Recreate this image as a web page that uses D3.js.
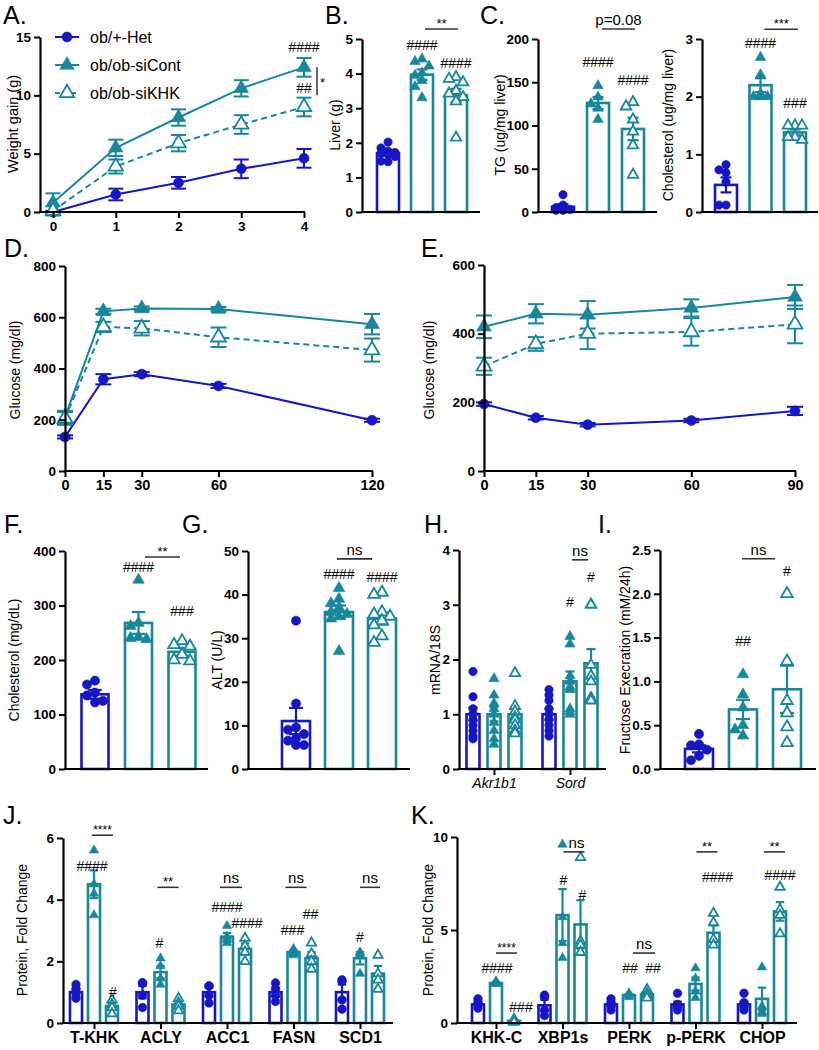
<!DOCTYPE html>
<html><head><meta charset="utf-8">
<script src="https://cdn.jsdelivr.net/npm/d3@7"></script>
<style>
body{margin:0;background:#fff}
svg{display:block}
text{font-family:"Liberation Sans",Arial,Helvetica,sans-serif}
</style>
</head><body>
<svg id="c" width="819" height="1050"></svg>
<script>
// ---------------- DATA ----------------
const groupNames = ["ob/+-Het", "ob/ob-siCont", "ob/ob-siKHK"];

// A. weight gain
const weeks = [0, 1, 2, 3, 4];
const wgTicks = [0, 5, 10, 15];
const wgHet = [0, 1.5, 2.5, 3.7, 4.6];
const wgHetErr = [0.1, 0.5, 0.5, 0.8, 0.8];
const wgCont = [0.8, 5.5, 8.1, 10.6, 12.4];
const wgContErr = [0.8, 0.7, 0.7, 0.7, 0.8];
const wgKHK = [0.1, 3.9, 5.9, 7.5, 9.0];
const wgKHKErr = [0.4, 0.6, 0.7, 0.8, 0.8];

// B. liver weight
const liverTicks = [0, 1, 2, 3, 4, 5];
const liverMean = [1.7, 3.97, 3.37];
const liverErr = [0.07, 0.15, 0.19];
const liverPts = [[2.02, 1.85, 1.76, 1.72, 1.7, 1.66, 1.6, 1.47, 1.45],
                  [4.42, 4.35, 4.22, 4.02, 3.95, 3.8, 3.62, 3.3],
                  [3.9, 3.85, 3.75, 3.5, 3.42, 3.32, 3.2, 2.15]];

// C. liver TG
const tgTicks = [0, 50, 100, 150, 200];
const tgMean = [6, 126, 96];
const tgErr = [3, 7, 13];
const tgPts = [[20, 8, 5, 3, 2, 2], [146, 133, 125, 120, 107], [127, 122, 107, 93, 77, 43]];

// C. liver cholesterol
const lcTicks = [0, 1, 2, 3];
const lcMean = [0.47, 2.2, 1.38];
const lcErr = [0.13, 0.12, 0.05];
const lcPts = [[0.82, 0.73, 0.68, 0.52, 0.12, 0.12], [2.68, 2.38, 2.05, 2.0, 2.0, 2.0], [1.5, 1.5, 1.5, 1.3, 1.3, 1.25]];

// D. GTT
const gttTimes = [0, 15, 30, 60, 120];
const gttTicks = [0, 200, 400, 600, 800];
const gttHet = [133, 358, 378, 332, 198];
const gttHetErr = [6, 20, 8, 8, 6];
const gttCont = [210, 623, 634, 632, 573];
const gttContErr = [25, 10, 8, 8, 40];
const gttKHK = [205, 562, 557, 522, 472];
const gttKHKErr = [25, 20, 28, 38, 45];

// E. ITT
const ittTimes = [0, 15, 30, 60, 90];
const ittTicks = [0, 200, 400, 600];
const ittHet = [195, 155, 135, 147, 175];
const ittHetErr = [5, 5, 5, 5, 12];
const ittCont = [420, 458, 455, 475, 507];
const ittContErr = [33, 28, 40, 25, 35];
const ittKHK = [305, 370, 400, 405, 427];
const ittKHKErr = [25, 20, 45, 40, 55];

// F. serum cholesterol
const scTicks = [0, 100, 200, 300, 400];
const scMean = [137, 268, 215];
const scErr = [8, 20, 7];
const scPts = [[162, 155, 140, 135, 125, 122], [347, 268, 262, 242, 240, 238], [235, 228, 225, 210, 200, 198]];

// G. ALT
const altTicks = [0, 10, 20, 30, 40, 50];
const altMean = [11, 36, 34.5];
const altErr = [3, 1.5, 1.4];
const altPts = [[34, 15, 9.5, 9, 8, 7, 6.5, 5.5, 5.5],
                [41.5, 39, 38, 37, 36, 35.5, 35, 34.5, 27],
                [40.5, 40, 36, 35.5, 35, 34, 33, 30.5, 29]];

// H. mRNA
const mrnaGenes = ["Akr1b1", "Sord"];
const mrnaTicks = [0, 1, 2, 3, 4];
const mrnaMean = [[1.0, 1.0, 1.0], [1.0, 1.6, 1.93]];
const mrnaErr = [[0.12, 0.13, 0.1], [0.1, 0.18, 0.26]];
const mrnaPts = [
  [[1.78, 1.32, 1.1, 1.0, 0.9, 0.8, 0.7, 0.6, 0.55], [1.65, 1.35, 1.2, 1.1, 1.0, 0.85, 0.7, 0.55, 0.45], [1.75, 1.15, 1.05, 0.95, 0.9, 0.8, 0.7, 0.65]],
  [[1.45, 1.35, 1.25, 1.1, 1.0, 0.9, 0.8, 0.7, 0.6], [2.42, 2.28, 1.7, 1.6, 1.5, 1.45, 1.1, 1.05, 1.0], [3.0, 3.0, 1.9, 1.7, 1.6, 1.3, 1.25]]
];

// I. fructose excretion
const fruTicks = [0, 0.5, 1.0, 1.5, 2.0, 2.5];
const fruMean = [0.23, 0.68, 0.91];
const fruErr = [0.04, 0.11, 0.27];
const fruPts = [[0.4, 0.28, 0.27, 0.22, 0.15, 0.1], [1.08, 0.85, 0.7, 0.5, 0.45, 0.38], [2.0, 1.23, 0.78, 0.64, 0.48, 0.3]];

// J. lipogenic proteins
const protJCats = ["T-KHK", "ACLY", "ACC1", "FASN", "SCD1"];
const protJTicks = [0, 2, 4, 6];
const protJMean = [[1, 4.5, 0.55], [1, 1.65, 0.6], [1, 2.8, 2.4], [1, 2.3, 2.1], [1, 2.1, 1.6]];
const protJErr = [[0.1, 0.45, 0.1], [0.2, 0.2, 0.1], [0.15, 0.12, 0.18], [0.15, 0.05, 0.2], [0.25, 0.2, 0.25]];
const protJPts = [
  [[1.25, 1.1, 1.0, 0.8], [5.6, 4.5, 4.2, 3.5], [0.75, 0.6, 0.5, 0.3]],
  [[1.3, 1.3, 0.9, 0.5], [2.1, 1.85, 1.45, 1.25], [0.8, 0.65, 0.55, 0.4]],
  [[1.2, 1.2, 0.9, 0.65], [3.15, 2.8, 2.7, 2.6], [2.75, 2.5, 2.3, 2.0]],
  [[1.3, 1.1, 0.9, 0.7], [2.4, 2.3, 2.25, 2.2], [2.6, 2.25, 2.0, 1.75]],
  [[1.4, 1.35, 0.75, 0.45], [2.3, 2.25, 2.2, 1.6], [2.2, 1.6, 1.4, 1.1]]
];

// K. ER stress proteins
const protKCats = ["KHK-C", "XBP1s", "PERK", "p-PERK", "CHOP"];
const protKTicks = [0, 5, 10];
const protKMean = [[1, 2.15, 0.12], [0.95, 5.8, 5.3], [1, 1.5, 1.55], [1, 2.1, 4.85], [1, 1.3, 6.0]];
const protKErr = [[0.1, 0.05, 0.03], [0.3, 1.4, 1.3], [0.1, 0.05, 0.1], [0.15, 0.35, 0.4], [0.15, 0.6, 0.5]];
const protKPts = [
  [[1.3, 1.1, 1.0, 0.8], [2.25, 2.2, 2.15, 2.1], [0.2, 0.15, 0.1, 0.05]],
  [[1.5, 1.4, 0.7, 0.4], [9.6, 5.7, 4.3, 3.5], [8.9, 4.4, 4.2, 3.8]],
  [[1.3, 1.1, 0.9, 0.7], [1.6, 1.55, 1.5, 1.4], [1.8, 1.6, 1.5, 1.35]],
  [[1.6, 1.0, 0.9, 0.7], [2.95, 2.4, 1.7, 1.35], [5.9, 5.4, 4.5, 4.2]],
  [[1.6, 1.1, 0.9, 0.7], [3.0, 0.9, 0.6, 0.5], [7.3, 6.1, 5.8, 4.8]]
];

// ---------------- DRAWING ----------------
const HET = "#1616c4", TEAL = "#17879a";
const FONT = '"Liberation Sans",Arial,Helvetica,sans-serif';
const NARROW = '"Liberation Sans Narrow","Arial Narrow",' + FONT;
const gStyle = [{c: HET, fill: HET, shape: "circle"}, {c: TEAL, fill: TEAL, shape: "tri"}, {c: TEAL, fill: "#fff", shape: "tri"}];
const svg = d3.select("#c");

function styleAxis(a, fs, family, weight) {
  a.select(".domain").attr("stroke", "#000").attr("stroke-width", 2.2);
  a.selectAll(".tick line").attr("stroke", "#000").attr("stroke-width", 2);
  a.selectAll(".tick text").attr("font-family", family || FONT).attr("font-weight", weight || "bold")
    .attr("font-size", fs || 13.5).attr("fill", "#000");
}
function yAxis(x, y, ticks, fmt) {
  const a = svg.append("g").attr("transform", `translate(${x},0)`)
    .call(d3.axisLeft(y).tickValues(ticks).tickFormat(fmt || (d => d)).tickSize(6).tickSizeOuter(0));
  styleAxis(a);
}
function xLine(x1, x2, y0) {
  svg.append("line").attr("x1", x1 - 1).attr("x2", x2).attr("y1", y0).attr("y2", y0)
    .attr("stroke", "#000").attr("stroke-width", 2.2);
}
function xTicks(scale, y0, ticks, fs, family, weight, italic) {
  const ax = d3.axisBottom(scale).tickSize(6).tickSizeOuter(0).tickFormat(d => d);
  if (ticks) ax.tickValues(ticks);
  const a = svg.append("g").attr("transform", `translate(0,${y0})`).call(ax);
  a.select(".domain").remove();
  styleAxis(a, fs, family, weight);
  if (italic) a.selectAll(".tick text").attr("font-style", "italic");
  return a;
}
function yLabel(t, x, yc, fs) {
  svg.append("text").attr("transform", `translate(${x},${yc}) rotate(-90)`).attr("text-anchor", "middle")
    .attr("dy", "0.35em").attr("font-size", fs || 14).text(t);
}
function panelLabel(t, x, y) {
  svg.append("text").attr("x", x).attr("y", y).attr("font-size", 25).text(t);
}
function marker(g, x, y, gi, r, a) {
  const s = gStyle[gi];
  const d = s.shape === "circle" ? d3.symbol(d3.symbolCircle, Math.PI * r * r)() : d3.symbol(d3.symbolTriangle, a)();
  g.append("path").attr("d", d).attr("transform", `translate(${x},${y})`)
    .attr("fill", s.fill).attr("stroke", s.c).attr("stroke-width", s.fill === "#fff" ? 1.8 : 0.6);
}
function errBar(g, x, y1, y2, cap, color, w) {
  g.append("line").attr("x1", x).attr("x2", x).attr("y1", y1).attr("y2", y2).attr("stroke", color).attr("stroke-width", w || 2);
  [y1, y2].forEach(yy => g.append("line").attr("x1", x - cap / 2).attr("x2", x + cap / 2).attr("y1", yy).attr("y2", yy)
    .attr("stroke", color).attr("stroke-width", w || 2));
}
function swarm(vals, y, step, maxOff) {
  const idx = vals.map((v, i) => i).sort((a, b) => vals[b] - vals[a]);
  const placed = [], off = new Array(vals.length).fill(0);
  const cands = [0];
  for (let k = 1; k < 8; k++) cands.push(-k * step, k * step);
  const ok = cands.filter(c => Math.abs(c) <= maxOff + 0.01);
  idx.forEach(i => {
    const py = y(vals[i]);
    let chosen = null;
    for (const c of ok) {
      if (placed.every(p => Math.hypot(p.x - c, p.y - py) >= step * 1.05)) { chosen = c; break; }
    }
    if (chosen === null) {
      let best = {c: 0, d: -1};
      ok.forEach(c => { const d = Math.min(...placed.map(p => Math.hypot(p.x - c, p.y - py))); if (d > best.d) best = {c, d}; });
      chosen = best.c;
    }
    off[i] = chosen; placed.push({x: chosen, y: py});
  });
  return off;
}
// bars: array of {x, m, e, pts, gi}
function drawBars(bars, y, bw, r, a, step, capFrac) {
  const g = svg.append("g");
  const y0 = y(0);
  bars.forEach(b => {
    const col = gStyle[b.gi].c;
    g.append("rect").attr("x", b.x - bw / 2).attr("y", y(b.m)).attr("width", bw).attr("height", y0 - y(b.m))
      .attr("fill", "#fff").attr("stroke", col).attr("stroke-width", 2.6);
  });
  bars.forEach(b => {
    const col = gStyle[b.gi].c;
    errBar(g, b.x, y(b.m - b.e), y(b.m + b.e), bw * (capFrac || 0.5), col, 2.2);
  });
  bars.forEach(b => {
    const off = swarm(b.pts, y, step, bw / 2 - 1);
    b.pts.forEach((v, k) => marker(g, b.x + off[k], y(v), b.gi, r, a));
  });
}
function ann(x, y, t, fs) {
  svg.append("text").attr("x", x).attr("y", y).attr("text-anchor", "middle").attr("font-size", fs || 14).text(t);
}
function sig(x1, x2, yy, t, fs) {
  svg.append("line").attr("x1", x1).attr("x2", x2).attr("y1", yy).attr("y2", yy).attr("stroke", "#333").attr("stroke-width", 1.6);
  const star = /\*/.test(t);
  ann((x1 + x2) / 2, star ? yy - 1 : yy - 4, t, fs || (star ? 13 : 15));
}
function lineSeries(x, y, xs, series, r, a, cap) {
  const g = svg.append("g");
  series.forEach((s, i) => {
    const line = d3.line().x((d, j) => x(xs[j])).y(d => y(d));
    g.append("path").attr("d", line(s.v)).attr("fill", "none").attr("stroke", gStyle[i].c).attr("stroke-width", 2)
      .attr("stroke-dasharray", s.dash || null);
  });
  series.forEach((s, i) => s.v.forEach((v, j) => errBar(g, x(xs[j]), y(v - s.e[j]), y(v + s.e[j]), cap, gStyle[i].c, 2)));
  series.forEach((s, i) => s.v.forEach((v, j) => marker(g, x(xs[j]), y(v), i, r, a)));
}

// ---------- Panel A ----------
{
  const x = d3.scaleLinear().domain([0, 4]).range([53, 304]);
  const y = d3.scaleLinear().domain([0, 15]).range([212, 37]);
  lineSeries(x, y, weeks, [{v: wgHet, e: wgHetErr}, {v: wgCont, e: wgContErr}, {v: wgKHK, e: wgKHKErr, dash: "6,4"}], 5, 90, 15);
  yAxis(40, y, wgTicks);
  xLine(40, 305, 212);
  xTicks(x, 212, weeks, 13.5);
  yLabel("Weight gain (g)", 13, 124, 14.5);
  panelLabel("A.", 3, 24);
  // legend
  groupNames.forEach((n, i) => {
    const ly = 37 + i * 28;
    svg.append("line").attr("x1", 55).attr("x2", 79).attr("y1", ly).attr("y2", ly).attr("stroke", gStyle[i].c)
      .attr("stroke-width", 2).attr("stroke-dasharray", i === 2 ? "5,3" : null);
    marker(svg, 67, ly, i, 5, 90);
    svg.append("text").attr("x", 90).attr("y", ly + 6).attr("font-size", 16).text(n);
  });
  ann(x(4), y(13.7), "####");
  ann(x(4), y(10.2), "##");
  svg.append("line").attr("x1", 317).attr("x2", 317).attr("y1", y(12.4)).attr("y2", y(10.0)).attr("stroke", "#333").attr("stroke-width", 1.5);
  svg.append("text").attr("x", 320).attr("y", y(10.7)).attr("font-size", 13).text("*");
}

// ---------- Panel B ----------
{
  const y = d3.scaleLinear().domain([0, 5]).range([212, 39]);
  const x = d3.scalePoint().domain(groupNames).range([388, 456]);
  drawBars(groupNames.map((n, i) => ({x: x(n), m: liverMean[i], e: liverErr[i], pts: liverPts[i], gi: i})), y, 22, 4.2, 48, 7);
  yAxis(362, y, liverTicks);
  xLine(362, 480, 212);
  yLabel("Liver (g)", 335, 125);
  panelLabel("B.", 325, 24);
  ann(x(groupNames[1]), y(4.68), "####");
  ann(x(groupNames[2]), y(4.16), "####");
  sig(x(groupNames[1]) + 3, x(groupNames[2]) + 2, y(5.29), "**");
}

// ---------- Panel C (TG) ----------
{
  const y = d3.scaleLinear().domain([0, 200]).range([212, 39]);
  const x = d3.scalePoint().domain(groupNames).range([563, 633]);
  drawBars(groupNames.map((n, i) => ({x: x(n), m: tgMean[i], e: tgErr[i], pts: tgPts[i], gi: i})), y, 22, 4.2, 48, 7);
  yAxis(538, y, tgTicks);
  xLine(538, 657, 212);
  yLabel("TG (ug/mg liver)", 500, 125);
  panelLabel("C.", 480, 24);
  ann(x(groupNames[1]), y(168), "####");
  ann(x(groupNames[2]), y(147), "####");
  sig(x(groupNames[1]) + 4, x(groupNames[2]) + 2, y(211.6), "p=0.08", 15);
}

// ---------- Panel C (cholesterol) ----------
{
  const y = d3.scaleLinear().domain([0, 3]).range([212, 39]);
  const x = d3.scalePoint().domain(groupNames).range([726, 795]);
  drawBars(groupNames.map((n, i) => ({x: x(n), m: lcMean[i], e: lcErr[i], pts: lcPts[i], gi: i})), y, 22, 4.2, 48, 7);
  yAxis(702, y, lcTicks);
  xLine(702, 818, 212);
  yLabel("Cholesterol (ug/mg liver)", 668, 125);
  ann(x(groupNames[1]), y(2.84), "####");
  ann(x(groupNames[2]), y(1.8), "###");
  sig(x(groupNames[1]) + 4, x(groupNames[2]) + 3, y(3.17), "***");
}

// ---------- Panel D ----------
{
  const x = d3.scaleLinear().domain([0, 120]).range([65, 372]);
  const y = d3.scaleLinear().domain([0, 800]).range([471, 266]);
  lineSeries(x, y, gttTimes, [{v: gttHet, e: gttHetErr}, {v: gttCont, e: gttContErr}, {v: gttKHK, e: gttKHKErr, dash: "6,4"}], 5, 95, 16);
  yAxis(65, y, gttTicks);
  xLine(65, 373, 471);
  xTicks(x, 471, gttTimes, 14.5, NARROW);
  yLabel("Glucose (mg/dl)", 15, 370);
  panelLabel("D.", 4, 257);
}

// ---------- Panel E ----------
{
  const x = d3.scaleLinear().domain([0, 90]).range([484, 795]);
  const y = d3.scaleLinear().domain([0, 600]).range([471, 265]);
  lineSeries(x, y, ittTimes, [{v: ittHet, e: ittHetErr}, {v: ittCont, e: ittContErr}, {v: ittKHK, e: ittKHKErr, dash: "6,4"}], 5, 95, 16);
  yAxis(484, y, ittTicks);
  xLine(484, 796, 471);
  xTicks(x, 471, ittTimes, 14.5, NARROW);
  yLabel("Glucose (mg/dl)", 429, 370);
  panelLabel("E.", 421, 257);
}

// ---------- Panel F ----------
{
  const y = d3.scaleLinear().domain([0, 400]).range([769, 551]);
  const x = d3.scalePoint().domain(groupNames).range([95, 182]);
  drawBars(groupNames.map((n, i) => ({x: x(n), m: scMean[i], e: scErr[i], pts: scPts[i], gi: i})), y, 27, 4.6, 58, 8);
  yAxis(65, y, scTicks);
  xLine(65, 208, 769);
  yLabel("Cholesterol (mg/dL)", 14, 660);
  panelLabel("F.", 4, 533);
  ann(x(groupNames[1]), y(361), "####");
  ann(x(groupNames[2]), y(281), "###");
  sig(145, 180, y(389), "**");
}

// ---------- Panel G ----------
{
  const y = d3.scaleLinear().domain([0, 50]).range([769, 551]);
  const x = d3.scalePoint().domain(groupNames).range([296, 382]);
  drawBars(groupNames.map((n, i) => ({x: x(n), m: altMean[i], e: altErr[i], pts: altPts[i], gi: i})), y, 28, 4.6, 58, 8);
  yAxis(248, y, altTicks);
  xLine(248, 410, 769);
  yLabel("ALT (U/L)", 217, 660);
  panelLabel("G.", 182, 533);
  ann(x(groupNames[1]), y(43.6), "####");
  ann(x(groupNames[2]), y(42.9), "####");
  sig(337, 372, y(48.2), "ns");
}

// ---------- Panel H ----------
{
  const y = d3.scaleLinear().domain([0, 4]).range([769, 550]);
  const x0 = d3.scalePoint().domain(mrnaGenes).range([494, 570]);
  const x1 = d3.scalePoint().domain(groupNames).range([-21, 21]);
  const bars = [];
  mrnaGenes.forEach((gname, c) => groupNames.forEach((n, i) =>
    bars.push({x: x0(gname) + x1(n), m: mrnaMean[c][i], e: mrnaErr[c][i], pts: mrnaPts[c][i], gi: i})));
  drawBars(bars, y, 13, 4.2, 45, 6, 0.7);
  yAxis(459, y, mrnaTicks);
  xLine(459, 606, 769);
  xTicks(x0, 769, null, 14, FONT, "normal", true);
  yLabel("mRNA/18S", 435, 660);
  panelLabel("H.", 424, 533);
  ann(x0("Sord") + x1(groupNames[1]), y(2.96), "#");
  ann(x0("Sord") + x1(groupNames[2]), y(3.42), "#");
  sig(572, 588, y(3.82), "ns");
}

// ---------- Panel I ----------
{
  const y = d3.scaleLinear().domain([0, 2.5]).range([769, 550]);
  const x = d3.scalePoint().domain(groupNames).range([699, 787]);
  drawBars(groupNames.map((n, i) => ({x: x(n), m: fruMean[i], e: fruErr[i], pts: fruPts[i], gi: i})), y, 28, 4.6, 58, 8);
  yAxis(660, y, fruTicks, d3.format(".1f"));
  xLine(660, 816, 769);
  yLabel("Fructose Execration (mM/24h)", 625, 660);
  panelLabel("I.", 598, 533);
  ann(x(groupNames[1]), y(1.4), "##");
  ann(x(groupNames[2]), y(2.2), "#");
  sig(742, 775, y(2.4), "ns");
}

// ---------- Panel J ----------
{
  const y = d3.scaleLinear().domain([0, 6]).range([1023, 838]);
  const x0 = d3.scalePoint().domain(protJCats).range([94, 360]);
  const x1 = d3.scalePoint().domain(groupNames).range([-18, 18]);
  const bars = [];
  protJCats.forEach((cat, c) => groupNames.forEach((n, i) =>
    bars.push({x: x0(cat) + x1(n), m: protJMean[c][i], e: protJErr[c][i], pts: protJPts[c][i], gi: i})));
  drawBars(bars, y, 12, 4.3, 38, 6, 0.7);
  yAxis(63, y, protJTicks);
  xLine(63, 393, 1023);
  xTicks(x0, 1023, null, 16, FONT, "bold");
  yLabel("Protein, Fold Change", 22, 930);
  panelLabel("J.", 3, 824);
  const c = k => x0(protJCats[k]);
  sig(c(0) - 2, c(0) + 19, y(6.09), "****", 12);
  ann(c(0) - 2, y(4.93), "####");
  ann(c(0) + 19, y(0.85), "#");
  sig(c(1) - 3, c(1) + 18, y(4.4), "**", 13);
  ann(c(1) - 1, y(2.43), "#");
  sig(c(2) - 7, c(2) + 15, y(4.4), "ns");
  ann(c(2), y(3.6), "####");
  ann(c(2) + 20, y(3.08), "####");
  sig(c(3) - 8, c(3) + 13, y(4.4), "ns");
  ann(c(3) - 1, y(2.85), "###");
  ann(c(3) + 17, y(3.37), "##");
  sig(c(4), c(4) + 20, y(4.4), "ns");
  ann(c(4), y(2.63), "#");
}

// ---------- Panel K ----------
{
  const y = d3.scaleLinear().domain([0, 10]).range([1023, 837]);
  const x0 = d3.scalePoint().domain(protKCats).range([496, 762]);
  const x1 = d3.scalePoint().domain(groupNames).range([-18, 18]);
  const bars = [];
  protKCats.forEach((cat, c) => groupNames.forEach((n, i) =>
    bars.push({x: x0(cat) + x1(n), m: protKMean[c][i], e: protKErr[c][i], pts: protKPts[c][i], gi: i})));
  drawBars(bars, y, 12, 4.3, 38, 6, 0.7);
  yAxis(457, y, protKTicks);
  xLine(457, 797, 1023);
  xTicks(x0, 1023, null, 16, FONT, "bold");
  yLabel("Protein, Fold Change", 428, 930);
  panelLabel("K.", 411, 824);
  const c = k => x0(protKCats[k]);
  sig(c(0), c(0) + 21, y(3.76), "****", 12);
  ann(c(0) + 1, y(2.69), "####");
  ann(c(0) + 25, y(0.6), "###");
  sig(c(1) + 1, c(1) + 22, y(9.2), "", 13);
  ann(c(1) + 14, y(9.2) - 4, "ns", 15);
  ann(c(1) + 1, y(7.4), "#");
  ann(c(1) + 20, y(6.6), "#");
  sig(c(2) + 4, c(2) + 26, y(3.76), "ns");
  ann(c(2) + 1, y(2.69), "##");
  ann(c(2) + 24, y(2.69), "##");
  sig(c(3) + 1, c(3) + 22, y(9.2), "**", 13);
  ann(c(3) + 22, y(7.6), "####");
  sig(c(4) + 2, c(4) + 23, y(9.2), "**", 13);
  ann(c(4) + 18, y(7.7), "####");
}
</script>
</body></html>
